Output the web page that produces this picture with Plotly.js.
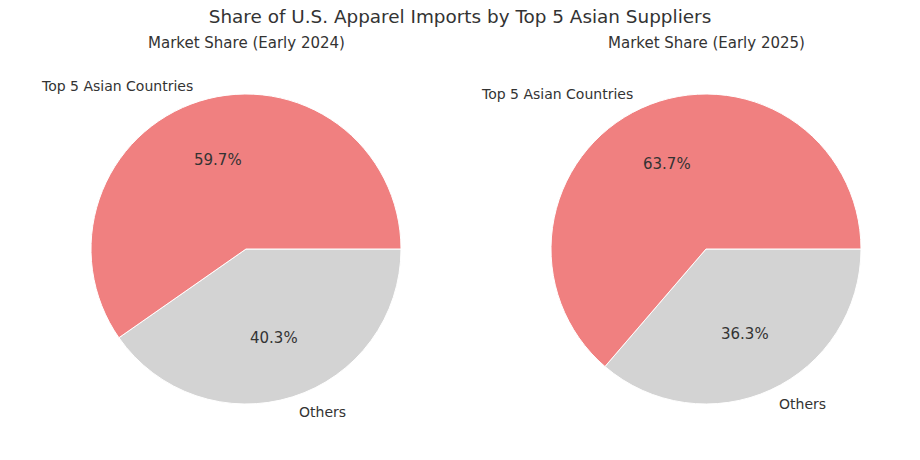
<!DOCTYPE html>
<html>
<head>
<meta charset="utf-8">
<script src="https://cdn.plot.ly/plotly-3.0.1.min.js"></script>
<style>html,body{margin:0;padding:0;background:#fff;} #chart{width:920px;height:460px;}</style>
</head>
<body>
<div id="chart"></div>
<script>
var categories = ["Top 5 Asian Countries", "Others"];
var share2024 = [59.7, 40.3];
var share2025 = [63.7, 36.3];
var subtitles = ["Market Share (Early 2024)", "Market Share (Early 2025)"];
var mainTitle = "Share of U.S. Apparel Imports by Top 5 Asian Suppliers";
var colors = ["#F08080", "#D3D3D3"];

var W = 920, H = 460;
var R = 155;
var centers = [[246, 249], [706, 249]];
var series = [share2024, share2025];
var font = "DejaVu Sans, sans-serif";
var textColor = "#333333";

var data = [];
var annotations = [];
series.forEach(function (vals, i) {
  var cx = centers[i][0], cy = centers[i][1];
  // Slices run counterclockwise from 3 o'clock (as matplotlib does):
  // equivalent to clockwise from 3 o'clock with the order reversed.
  data.push({
    type: "pie",
    values: vals.slice().reverse(),
    labels: categories.slice().reverse(),
    sort: false,
    direction: "clockwise",
    rotation: 90,
    marker: { colors: colors.slice().reverse(), line: { color: "#ffffff", width: 1 } },
    textinfo: "none",
    hoverinfo: "label+percent",
    showlegend: false,
    domain: { x: [(cx - R) / W, (cx + R) / W], y: [1 - (cy + R) / H, 1 - (cy - R) / H] }
  });
  var total = vals.reduce(function (a, b) { return a + b; }, 0);
  var start = 0;
  vals.forEach(function (v, j) {
    var frac = v / total;
    var mid = (start + frac / 2) * 2 * Math.PI;
    start += frac;
    var c = Math.cos(mid), s = Math.sin(mid);
    annotations.push({
      xref: "paper", yref: "paper",
      x: (cx + 0.6 * R * c) / W, y: 1 - (cy - 0.6 * R * s) / H,
      text: (100 * frac).toFixed(1) + "%",
      showarrow: false, xanchor: "center", yanchor: "middle",
      font: { family: font, size: 15, color: textColor }
    });
    annotations.push({
      xref: "paper", yref: "paper",
      x: (cx + 1.1 * R * c) / W, y: 1 - (cy - 1.1 * R * s) / H,
      text: categories[j],
      showarrow: false, xanchor: c > 0 ? "left" : "right", yanchor: "middle",
      font: { family: font, size: 14, color: textColor }
    });
  });
  annotations.push({
    xref: "paper", yref: "paper",
    x: cx / W, y: 1 - 43 / H,
    text: subtitles[i],
    showarrow: false, xanchor: "center", yanchor: "middle",
    font: { family: font, size: 15, color: textColor }
  });
});

var layout = {
  width: W, height: H,
  margin: { l: 0, r: 0, t: 0, b: 0 },
  paper_bgcolor: "#ffffff",
  plot_bgcolor: "#ffffff",
  title: {
    text: mainTitle,
    x: 0.5, xanchor: "center",
    y: 1 - 17 / H, yanchor: "middle",
    font: { family: font, size: 18.4, color: textColor }
  },
  annotations: annotations
};

Plotly.newPlot("chart", data, layout, { displayModeBar: false, staticPlot: true });
</script>
</body>
</html>
